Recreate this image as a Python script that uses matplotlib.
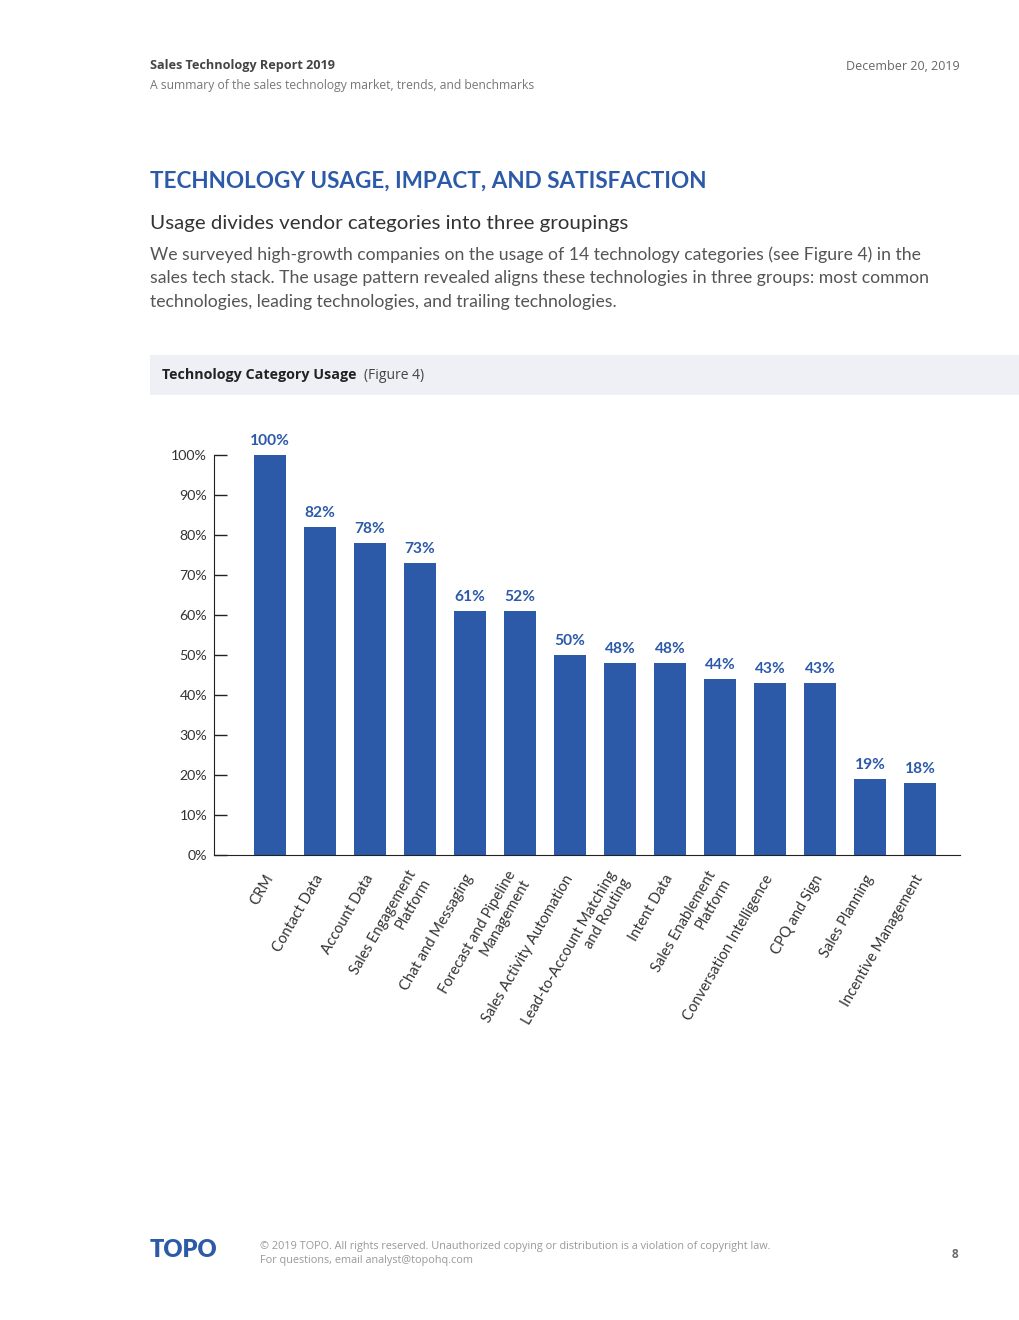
import matplotlib
matplotlib.use("Agg")
import matplotlib.pyplot as plt
from matplotlib.patches import Rectangle

plt.rcParams['font.family'] = ['Lato', 'DejaVu Sans']
SMALL = ['Open Sans', 'DejaVu Sans']

# data
categories = ["CRM", "Contact Data", "Account Data", "Sales Engagement\nPlatform",
              "Chat and Messaging", "Forecast and Pipeline\nManagement",
              "Sales Activity Automation", "Lead-to-Account Matching\nand Routing",
              "Intent Data", "Sales Enablement\nPlatform", "Conversation Intelligence",
              "CPQ and Sign", "Sales Planning", "Incentive Management"]
usage = [100, 82, 78, 73, 61, 61, 50, 48, 48, 44, 43, 43, 19, 18]
# printed labels (the Forecast bar is labelled 52% in the source)
usage_labels = [100, 82, 78, 73, 61, 52, 50, 48, 48, 44, 43, 43, 19, 18]
yticks = [0, 10, 20, 30, 40, 50, 60, 70, 80, 90, 100]

BLUE = "#2C5AA8"
W, H = 1020, 1320

fig = plt.figure(figsize=(W / 100, H / 100), dpi=100)


def px(x, y):
    return x / W, 1 - y / H


# header
fig.text(*px(150, 66), "Sales Technology Report 2019", fontsize=9.1, fontweight="bold",
         color="#444444", va="center", family=SMALL)
fig.text(*px(150, 86), "A summary of the sales technology market, trends, and benchmarks",
         fontsize=8.7, color="#777777", va="center", family=SMALL)
fig.text(*px(960, 66), "December 20, 2019", fontsize=9, color="#666666", va="center", ha="right",
         family=SMALL)

fig.text(*px(150, 181), "TECHNOLOGY USAGE, IMPACT, AND SATISFACTION", fontsize=16.2,
         fontweight="bold", color=BLUE, va="center")
fig.text(*px(150, 223), "Usage divides vendor categories into three groupings", fontsize=14.75,
         color="#333333", va="center")
para = ["We surveyed high-growth companies on the usage of 14 technology categories (see Figure 4) in the",
        "sales tech stack. The usage pattern revealed aligns these technologies in three groups: most common",
        "technologies, leading technologies, and trailing technologies."]
for i, line in enumerate(para):
    fig.text(*px(150, 255 + i * 23.5), line, fontsize=12.7, color="#555555", va="center")

# figure band
fig.patches.append(Rectangle(px(150, 395), (1020 - 150) / W, 40 / H, transform=fig.transFigure,
                             facecolor="#EEF0F6", edgecolor="none", zorder=0))
fig.text(*px(162, 375), "Technology Category Usage", fontsize=10.3, fontweight="bold",
         color="#222222", va="center", family=SMALL)
fig.text(*px(364, 375), "(Figure 4)", fontsize=10, color="#444444", va="center", family=SMALL)

# chart
ax = fig.add_axes([214 / W, 1 - 855 / H, (960 - 214) / W, 400 / H])
x = list(range(len(categories)))
ax.bar(x, usage, width=0.63, color=BLUE, zorder=2)
for xi, v, lab in zip(x, usage, usage_labels):
    ax.annotate(f"{lab}%", (xi, v), xytext=(0, 5), textcoords="offset points",
                ha="center", va="bottom", fontsize=11.2, fontweight="bold", color=BLUE,
                annotation_clip=False)

ax.set_xlim(-1.12, 13.8)
ax.set_ylim(0, 100)
ax.set_yticks(yticks)
ax.set_yticklabels([f"{t}%" for t in yticks], fontsize=10.2, color="#333333")
ax.tick_params(axis="y", direction="in", length=9, width=1, pad=5, color="#222222")
ax.set_xticks(x)
ax.set_xticklabels(categories, rotation=60, ha="right", va="center", rotation_mode="anchor",
                   fontsize=10.6, color="#333333")
ax.tick_params(axis="x", length=0, pad=15)
for s in ["top", "right"]:
    ax.spines[s].set_visible(False)
ax.spines["left"].set_color("#222222")
ax.spines["bottom"].set_color("#222222")
ax.patch.set_alpha(0)

# footer
fig.text(*px(150, 1250), "TOPO", fontsize=17, fontweight="heavy", color=BLUE, va="center")
fig.text(*px(260, 1246),
         "\u00a9 2019 TOPO. All rights reserved. Unauthorized copying or distribution is a violation of copyright law.",
         fontsize=7.85, color="#999999", va="center", family=SMALL)
fig.text(*px(260, 1261), "For questions, email analyst@topohq.com", fontsize=7.8, color="#999999",
         va="center", family=SMALL)
fig.text(*px(958, 1254), "8", fontsize=8.5, fontweight="bold", color="#666666", va="center",
         ha="right", family=SMALL)

fig.savefig("out.png", dpi=100)
